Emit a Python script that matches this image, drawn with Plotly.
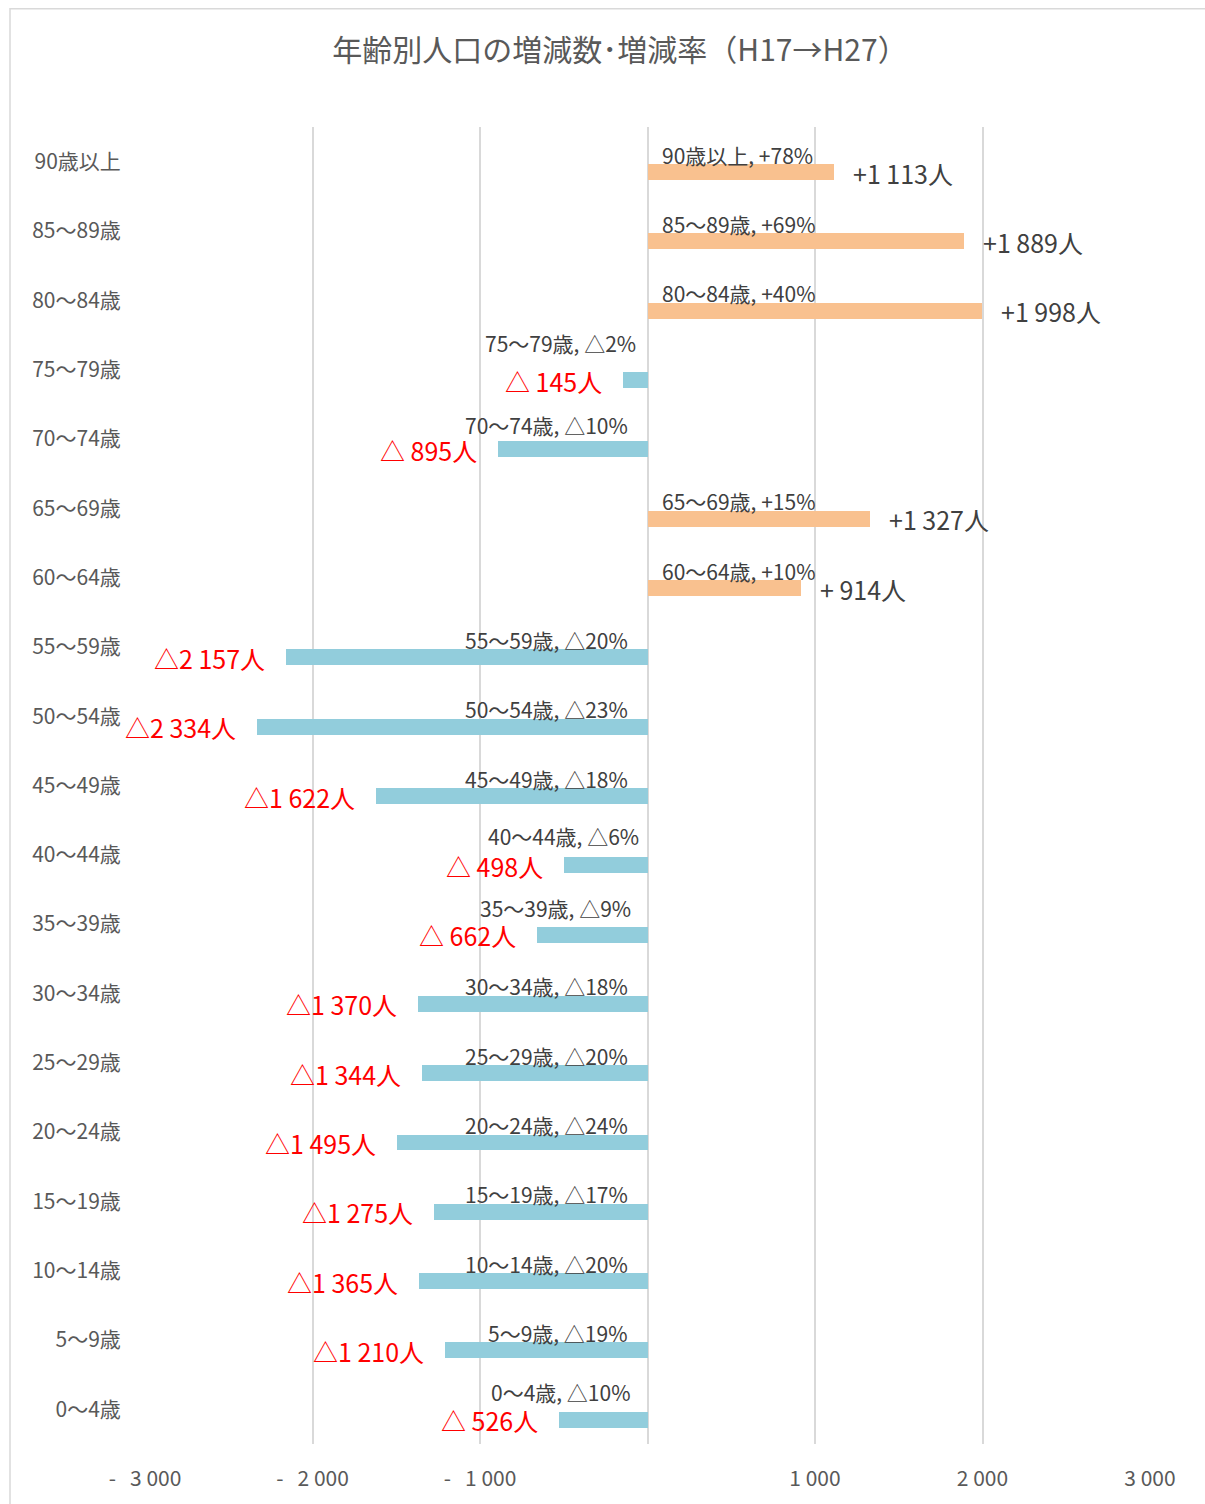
import plotly.graph_objects as go

# ---- data ----
categories = ["0〜4歳", "5〜9歳", "10〜14歳", "15〜19歳", "20〜24歳", "25〜29歳",
              "30〜34歳", "35〜39歳", "40〜44歳", "45〜49歳", "50〜54歳", "55〜59歳",
              "60〜64歳", "65〜69歳", "70〜74歳", "75〜79歳", "80〜84歳", "85〜89歳",
              "90歳以上"]
change = [-526, -1210, -1365, -1275, -1495, -1344, -1370, -662, -498, -1622,
          -2334, -2157, 914, 1327, -895, -145, 1998, 1889, 1113]
rate_pct = [-10, -19, -20, -17, -24, -20, -18, -9, -6, -18,
            -23, -20, 10, 15, -10, -2, 40, 69, 78]
x_tickvals = [-3000, -2000, -1000, 0, 1000, 2000, 3000]
x_ticktext = ["-\u00a0\u00a0\u00a03\u00a0000", "-\u00a0\u00a0\u00a02\u00a0000",
              "-\u00a0\u00a0\u00a01\u00a0000", "", "1\u00a0000", "2\u00a0000", "3\u00a0000"]
title_text = "年齢別人口の増減数･増減率（H17→H27）"

# ---- style ----
FONT = "Noto Sans CJK JP, Noto Sans, sans-serif"
POS_COLOR = "#F9C18F"
NEG_COLOR = "#92CDDC"
GRID = "#D9D9D9"
# per-row nudges (dx, dy in px) for category/rate labels placed manually in the original
label_nudge = {"75〜79歳": (8, 20), "70〜74歳": (0, 7), "40〜44歳": (11, 12),
               "35〜39歳": (3, 9), "0〜4歳": (3, 10)}

NB = "\u00a0"


def fmt_count(v):
    sign = "+" if v >= 0 else "△"
    a = abs(v)
    if a >= 1000:
        s = f"{a // 1000}{NB}{a % 1000:03d}"
    else:
        s = f"{NB}{a}"
    return f"{sign}{s}人"


def fmt_rate(p):
    return f"+{p}%" if p >= 0 else f"△{abs(p)}%"


fig = go.Figure()
fig.add_trace(go.Bar(
    y=categories, x=change, orientation="h",
    marker=dict(color=[POS_COLOR if v >= 0 else NEG_COLOR for v in change],
                line=dict(width=0)),
    width=0.23, offset=-0.265, hoverinfo="skip", showlegend=False,
))

annotations = []
for cat, v, p in zip(categories, change, rate_pct):
    dx, dy = label_nudge.get(cat, (0, 0))
    # category + rate label near zero
    annotations.append(dict(
        x=0, y=cat, xref="x", yref="y", showarrow=False,
        text=f"{cat},{NB}{fmt_rate(p)}",
        xanchor="left" if v >= 0 else "right", yanchor="middle",
        xshift=(12 if v >= 0 else -18 + dx), yshift=7 + dy,
        font=dict(family=FONT, size=21, color="#404040"),
    ))
    # count label at bar end
    annotations.append(dict(
        x=v, y=cat, xref="x", yref="y", showarrow=False,
        text=fmt_count(v),
        xanchor="left" if v >= 0 else "right", yanchor="middle",
        xshift=(17 if v >= 0 else -19), yshift=-11,
        font=dict(family=FONT, size=25, color="#404040" if v >= 0 else "#FF0000"),
    ))

fig.update_layout(
    width=1205, height=1504,
    margin=dict(l=145, r=55, t=127, b=53),
    paper_bgcolor="white", plot_bgcolor="white",
    font=dict(family=FONT, color="#595959"),
    title=dict(text=title_text, x=620 / 1205, xanchor="center", xref="container",
               y=1 - 50 / 1504, yanchor="middle", yref="container",
               font=dict(family=FONT, size=30, color="#595959")),
    annotations=annotations,
    bargap=0,
    shapes=[dict(type="rect", xref="paper", yref="paper",
                 x0=(10 - 145) / 1005, x1=1.2, y0=-0.2, y1=(1451 - 8) / 1324,
                 line=dict(color=GRID, width=1.5), layer="below")],
)
fig.update_xaxes(
    range=[-3000, 3000], tickvals=x_tickvals, ticktext=x_ticktext,
    showgrid=True, gridcolor=GRID, gridwidth=2,
    zeroline=True, zerolinecolor=GRID, zerolinewidth=2,
    showline=False, ticks="outside", ticklen=16, tickcolor="rgba(0,0,0,0)",
    tickfont=dict(family=FONT, size=21, color="#595959"), fixedrange=True,
)
fig.update_yaxes(
    type="category", categoryorder="array", categoryarray=categories,
    showgrid=False, zeroline=False, showline=False,
    ticks="outside", ticklen=19, tickcolor="rgba(0,0,0,0)",
    tickfont=dict(family=FONT, size=21, color="#595959"), fixedrange=True,
)

fig.write_html("out.html", config={"displayModeBar": False},
               post_script="document.body.style.margin='0';document.body.style.overflow='hidden';")
